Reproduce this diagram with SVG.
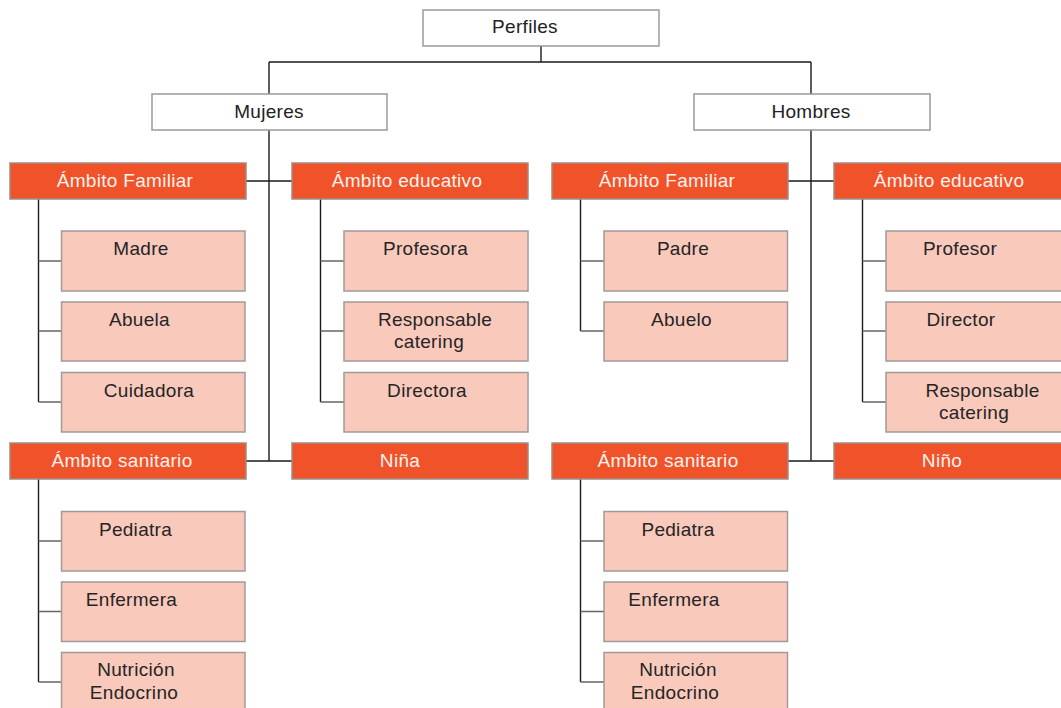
<svg xmlns="http://www.w3.org/2000/svg" width="1061" height="708" viewBox="0 0 1061 708">
<style>
.w{fill:#ffffff;stroke:#9a9a9a;stroke-width:1.5}
.o{fill:#f0522a;stroke:#a08c86;stroke-width:1.5}
.p{fill:#f9c9bc;stroke:#a09a98;stroke-width:1.5}
text{font-family:"Liberation Sans",Arial,sans-serif;font-size:19px;letter-spacing:0.3px;text-anchor:middle}
.tw{fill:#222222}
.to{fill:#fff3ee}
.tp{fill:#252525}
.c path{fill:none;stroke:#1a1a1a;stroke-width:1.4}
.c path.s{stroke:#666666}
</style>
<g class="c" id="connectors">
<path d="M541 46V62M269 62H811M269 62V94M811 62V94"/>
<path d="M269 130V461M811 130V461"/>
<path d="M246 181H292M246 461H292M788 181H834M788 461H834"/>
<path d="M38.5 199V402M320.5 199V402M38.5 479V682M580.5 199V331M862.5 199V402M580.5 479V682"/>
<path class="s" d="M38.5 261H61.5M38.5 331H61.5M38.5 402H61.5M320.5 261H344M320.5 331H344M320.5 402H344M38.5 541H61.5M38.5 611.5H61.5M38.5 682H61.5M580.5 261H604M580.5 331H604M862.5 261H886M862.5 331H886M862.5 402H886M580.5 541H604M580.5 611.5H604M580.5 682H604"/>
</g>
<g id="perfiles"><rect class="w" x="423" y="10" width="236" height="36"/><text class="tw" x="525" y="33">Perfiles</text></g>
<g id="mujeres"><rect class="w" x="152" y="94" width="235" height="36"/><text class="tw" x="269" y="118">Mujeres</text></g>
<g id="hombres"><rect class="w" x="694" y="94" width="236" height="36"/><text class="tw" x="811" y="118">Hombres</text></g>

<g id="m-familiar"><rect class="o" x="10" y="163" width="236" height="36"/><text class="to" x="125" y="187">Ámbito Familiar</text></g>
<g id="m-educativo"><rect class="o" x="292" y="163" width="236" height="36"/><text class="to" x="407" y="187">Ámbito educativo</text></g>
<g id="m-sanitario"><rect class="o" x="10" y="443" width="236" height="36"/><text class="to" x="122" y="467">Ámbito sanitario</text></g>
<g id="nina"><rect class="o" x="292" y="443" width="236" height="36"/><text class="to" x="400" y="467">Niña</text></g>

<g id="h-familiar"><rect class="o" x="552" y="163" width="236" height="36"/><text class="to" x="667" y="187">Ámbito Familiar</text></g>
<g id="h-educativo"><rect class="o" x="834" y="163" width="236" height="36"/><text class="to" x="949" y="187">Ámbito educativo</text></g>
<g id="h-sanitario"><rect class="o" x="552" y="443" width="236" height="36"/><text class="to" x="668" y="467">Ámbito sanitario</text></g>
<g id="nino"><rect class="o" x="834" y="443" width="236" height="36"/><text class="to" x="942" y="467">Niño</text></g>

<g id="madre"><rect class="p" x="61.5" y="231" width="183.5" height="60"/><text class="tp" x="141" y="255">Madre</text></g>
<g id="abuela"><rect class="p" x="61.5" y="302" width="183.5" height="59"/><text class="tp" x="139.5" y="326">Abuela</text></g>
<g id="cuidadora"><rect class="p" x="61.5" y="372.5" width="183.5" height="59.5"/><text class="tp" x="149" y="397">Cuidadora</text></g>

<g id="profesora"><rect class="p" x="344" y="231" width="184" height="60"/><text class="tp" x="425.5" y="255">Profesora</text></g>
<g id="m-catering"><rect class="p" x="344" y="302" width="184" height="59"/><text class="tp" x="435" y="326">Responsable</text><text class="tp" x="429" y="348">catering</text></g>
<g id="directora"><rect class="p" x="344" y="372.5" width="184" height="59.5"/><text class="tp" x="427" y="397">Directora</text></g>

<g id="m-pediatra"><rect class="p" x="61.5" y="511.5" width="183.5" height="59.5"/><text class="tp" x="135.5" y="536">Pediatra</text></g>
<g id="m-enfermera"><rect class="p" x="61.5" y="582" width="183.5" height="59.5"/><text class="tp" x="131.5" y="606">Enfermera</text></g>
<g id="m-nutricion"><rect class="p" x="61.5" y="652.5" width="183.5" height="60"/><text class="tp" x="136" y="676">Nutrición</text><text class="tp" x="134" y="699">Endocrino</text></g>

<g id="padre"><rect class="p" x="604" y="231" width="183.5" height="60"/><text class="tp" x="683" y="255">Padre</text></g>
<g id="abuelo"><rect class="p" x="604" y="302" width="183.5" height="59"/><text class="tp" x="681.5" y="326">Abuelo</text></g>

<g id="profesor"><rect class="p" x="886" y="231" width="184" height="60"/><text class="tp" x="960" y="255">Profesor</text></g>
<g id="director"><rect class="p" x="886" y="302" width="184" height="59"/><text class="tp" x="961" y="326">Director</text></g>
<g id="h-catering"><rect class="p" x="886" y="372.5" width="184" height="59.5"/><text class="tp" x="982.5" y="397">Responsable</text><text class="tp" x="974" y="419">catering</text></g>

<g id="h-pediatra"><rect class="p" x="604" y="511.5" width="183.5" height="59.5"/><text class="tp" x="678" y="536">Pediatra</text></g>
<g id="h-enfermera"><rect class="p" x="604" y="582" width="183.5" height="59.5"/><text class="tp" x="674" y="606">Enfermera</text></g>
<g id="h-nutricion"><rect class="p" x="604" y="652.5" width="183.5" height="60"/><text class="tp" x="678" y="676">Nutrición</text><text class="tp" x="675" y="699">Endocrino</text></g>
</svg>
